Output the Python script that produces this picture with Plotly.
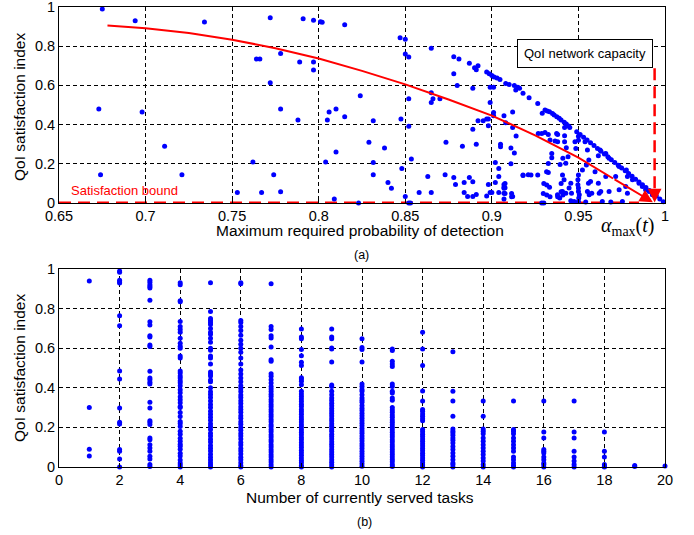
import plotly.graph_objects as go

# ---------------- (a) data: max required probability of detection vs QoI index
pts_sparse = [
    (0.675, 0.99), (0.694, 0.93), (0.734, 0.923), (0.772, 0.945), (0.791, 0.94),
    (0.797, 0.932), (0.801, 0.925), (0.802, 0.922), (0.815, 0.91),
    (0.673, 0.48), (0.698, 0.464), (0.711, 0.29), (0.674, 0.144), (0.721, 0.144),
    (0.764, 0.735), (0.766, 0.735), (0.778, 0.763), (0.772, 0.614), (0.778, 0.48),
    (0.789, 0.719), (0.797, 0.719), (0.797, 0.679), (0.788, 0.423), (0.762, 0.209),
    (0.774, 0.144), (0.753, 0.053), (0.767, 0.053), (0.778, 0.057),
    (0.806, 0.464), (0.805, 0.423), (0.810, 0.48), (0.815, 0.44), (0.804, 0.209),
    (0.810, 0.26), (0.809, 0.02), (0.824, 0.547), (0.829, 0.31), (0.8315, 0.42),
    (0.8315, 0.207), (0.8315, 0.144), (0.823, 0.0), (0.838, 0.28),
]
pts_mid = [
    (0.847, 0.843), (0.850, 0.835), (0.850, 0.76), (0.852, 0.745), (0.865, 0.79),
    (0.878, 0.66), (0.880, 0.599), (0.889, 0.586), (0.899, 0.59), (0.901, 0.59),
    (0.852, 0.532), (0.865, 0.562), (0.866, 0.532), (0.865, 0.513), (0.870, 0.532),
    (0.899, 0.513), (0.901, 0.462), (0.901, 0.445), (0.907, 0.445), (0.912, 0.464),
    (0.8475, 0.428), (0.852, 0.392), (0.892, 0.42), (0.895, 0.42), (0.897, 0.428),
    (0.898, 0.428), (0.898, 0.394), (0.889, 0.376), (0.908, 0.41), (0.912, 0.385),
    (0.914, 0.342), (0.8735, 0.31), (0.883, 0.29), (0.891, 0.30), (0.905, 0.30),
    (0.905, 0.287), (0.911, 0.28), (0.913, 0.255), (0.8535, 0.224), (0.848, 0.176),
    (0.840, 0.104), (0.842, 0.075), (0.863, 0.135), (0.873, 0.144), (0.878, 0.13),
    (0.879, 0.094), (0.887, 0.13), (0.884, 0.104), (0.889, 0.108), (0.902, 0.207),
    (0.904, 0.176), (0.904, 0.135), (0.902, 0.104), (0.907, 0.094), (0.907, 0.082),
    (0.907, 0.075), (0.911, 0.2), (0.918, 0.14), (0.921, 0.144), (0.898, 0.094),
    (0.858, 0.053), (0.865, 0.053), (0.884, 0.053), (0.886, 0.033), (0.889, 0.033),
    (0.891, 0.043), (0.897, 0.036), (0.899, 0.053), (0.900, 0.053), (0.904, 0.053),
    (0.907, 0.05), (0.907, 0.02), (0.912, 0.033), (0.85, 0.033), (0.852, 0.0),
    (0.853, 0.0),
]
pts_edge1 = [
    (0.878, 0.746), (0.881, 0.735), (0.887, 0.713), (0.890, 0.69), (0.891, 0.68),
    (0.892, 0.70), (0.897, 0.668), (0.8985, 0.66), (0.900, 0.65), (0.9013, 0.643),
    (0.903, 0.638), (0.9047, 0.63), (0.908, 0.61), (0.910, 0.604), (0.913, 0.60),
    (0.915, 0.59), (0.916, 0.585), (0.9138, 0.577), (0.918, 0.56), (0.9215, 0.537),
    (0.9265, 0.508),
]
pts_edge2 = [
    (0.9291, 0.458), (0.9307, 0.474), (0.932, 0.47), (0.9333, 0.466), (0.935, 0.457),
    (0.936, 0.449), (0.9375, 0.44), (0.9389, 0.432), (0.940, 0.424), (0.9418, 0.412),
    (0.943, 0.403), (0.9443, 0.393),
]
pts_edge3 = [
    (0.949, 0.364), (0.951, 0.35), (0.953, 0.336), (0.955, 0.321), (0.957, 0.307),
    (0.959, 0.293), (0.961, 0.278), (0.963, 0.264), (0.965, 0.25), (0.967, 0.236),
    (0.969, 0.221), (0.971, 0.207), (0.973, 0.193), (0.975, 0.178), (0.977, 0.164),
    (0.979, 0.15), (0.981, 0.136), (0.983, 0.121), (0.985, 0.107), (0.987, 0.093),
    (0.989, 0.079), (0.991, 0.064), (0.993, 0.05), (0.995, 0.036), (0.997, 0.021),
    (0.999, 0.007),
]
pts_dense = [
    (0.9268, 0.355), (0.9288, 0.355), (0.9307, 0.36), (0.9326, 0.35), (0.9374, 0.355),
    (0.9336, 0.321), (0.9365, 0.316), (0.9346, 0.253), (0.9346, 0.231), (0.9394, 0.197),
    (0.9326, 0.202), (0.918, 0.143), (0.9226, 0.143), (0.9265, 0.143), (0.9326, 0.156),
    (0.94, 0.10), (0.9076, 0.10), (0.9076, 0.078), (0.9076, 0.049), (0.9114, 0.049),
    (0.9114, 0.032), (0.9297, 0.049), (0.9317, 0.041), (0.9336, 0.032), (0.94, 0.058),
    (0.941, 0.041), (0.938, 0.032), (0.93, 0.0), (0.9288, 0.0), (0.930, 0.10),
    (0.9317, 0.0915), (0.9333, 0.08), (0.9316, 0.16),
    (0.942, 0.385), (0.945, 0.385), (0.938, 0.35), (0.942, 0.343), (0.938, 0.312),
    (0.942, 0.312), (0.948, 0.312), (0.943, 0.282), (0.9485, 0.278), (0.944, 0.236),
    (0.941, 0.228), (0.9427, 0.203), (0.9408, 0.143), (0.9417, 0.118), (0.9456, 0.101),
    (0.9446, 0.076), (0.9408, 0.059), (0.9427, 0.05), (0.946, 0.05), (0.9379, 0.042),
    (0.9392, 0.025), (0.9456, 0.012), (0.9475, 0.008),
    (0.95, 0.34), (0.95, 0.32), (0.95, 0.143), (0.9497, 0.118), (0.9497, 0.093),
    (0.95, 0.076), (0.95, 0.059), (0.9505, 0.042), (0.9502, 0.025), (0.95, 0.008),
    (0.9538, 0.312), (0.9552, 0.27), (0.9615, 0.241), (0.9625, 0.27), (0.9658, 0.253),
    (0.9677, 0.228), (0.956, 0.219), (0.9596, 0.160), (0.9546, 0.194), (0.9523, 0.169),
    (0.9735, 0.186), (0.9777, 0.169), (0.9715, 0.135), (0.9658, 0.135), (0.9615, 0.101),
    (0.957, 0.11), (0.9558, 0.101), (0.9552, 0.059), (0.9577, 0.05), (0.9562, 0.042),
    (0.9629, 0.059), (0.962, 0.05), (0.9677, 0.059), (0.9735, 0.068), (0.9773, 0.084),
    (0.9783, 0.05), (0.9812, 0.118), (0.9869, 0.084), (0.9888, 0.068), (0.9908, 0.059),
    (0.9927, 0.042), (0.985, 0.101), (0.9783, 0.135), (0.9638, 0.008), (0.9687, 0.005),
    (0.9754, 0.008), (0.9542, 0.005),
]

# red trend curve (a)
trend_pd = [0.678, 0.70, 0.725, 0.75, 0.775, 0.80, 0.825, 0.85, 0.875, 0.90,
            0.925, 0.95, 0.97]
trend_qsi = [0.905, 0.892, 0.867, 0.833, 0.790, 0.737, 0.674, 0.605, 0.528, 0.446,
             0.345, 0.232, 0.125]
trend_tip = (0.993, 0.004)
alpha_max = 0.994
capacity_top = 0.687

# ---------------- (b) data: number of served tasks vs QoI index
q_tasks01 = [0.94, 0.30, 0.09, 0.055]
q_tasks02 = [0.99, 0.983, 0.943, 0.934, 0.929, 0.764, 0.714, 0.485, 0.444, 0.298,
             0.226, 0.217, 0.088, 0.079, 0.04, 0.0]
q_tasks03 = [0.943, 0.933, 0.921, 0.912, 0.904, 0.842, 0.734, 0.717, 0.663, 0.657,
             0.616, 0.609, 0.483, 0.45, 0.441, 0.428, 0.419, 0.327, 0.298, 0.234,
             0.226, 0.215, 0.146, 0.138, 0.113, 0.096, 0.079, 0.054, 0.04, 0.012, 0.003]
q_tasks04 = [0.93, 0.92, 0.84, 0.835, 0.735, 0.71, 0.695, 0.68, 0.65, 0.625, 0.61,
             0.60, 0.56, 0.55, 0.485, 0.475, 0.46, 0.45, 0.435, 0.425, 0.41, 0.39,
             0.375, 0.355, 0.34, 0.325, 0.305, 0.30, 0.275, 0.255, 0.23, 0.22, 0.205,
             0.18, 0.165, 0.145, 0.13, 0.115, 0.105, 0.09, 0.07, 0.055, 0.035, 0.02,
             0.01, 0.0]
q_tasks05 = [0.93, 0.785, 0.75, 0.74, 0.73, 0.72, 0.70, 0.68, 0.67, 0.65, 0.63, 0.60,
             0.59, 0.56, 0.55, 0.52, 0.48, 0.47, 0.46, 0.44, 0.43, 0.40, 0.38, 0.366,
             0.351, 0.333, 0.316, 0.30, 0.282, 0.266, 0.251, 0.236, 0.219, 0.205, 0.19,
             0.171, 0.156, 0.14, 0.126, 0.109, 0.095, 0.081, 0.064, 0.049, 0.035, 0.021,
             0.01, 0.0]
q_tasks06 = [0.93, 0.925, 0.74, 0.73, 0.71, 0.69, 0.665, 0.64, 0.62, 0.60, 0.58, 0.55,
             0.52, 0.49, 0.47, 0.45, 0.43, 0.41, 0.396, 0.381, 0.364, 0.351, 0.334,
             0.321, 0.304, 0.291, 0.276, 0.259, 0.246, 0.229, 0.216, 0.199, 0.186, 0.169,
             0.156, 0.141, 0.124, 0.111, 0.094, 0.081, 0.066, 0.049, 0.036, 0.021, 0.008,
             0.0]
q_tasks07 = [0.925, 0.71, 0.694, 0.663, 0.652, 0.606, 0.542, 0.534, 0.471, 0.458, 0.441,
             0.424, 0.407, 0.394, 0.381, 0.367, 0.356, 0.341, 0.33, 0.316, 0.304, 0.291,
             0.279, 0.265, 0.254, 0.24, 0.229, 0.214, 0.203, 0.189, 0.178, 0.163, 0.152,
             0.138, 0.127, 0.113, 0.101, 0.087, 0.076, 0.062, 0.05, 0.036, 0.025, 0.011,
             0.0]
q_tasks08 = [0.697, 0.657, 0.648, 0.593, 0.562, 0.529, 0.512, 0.451, 0.444, 0.433,
             0.416, 0.382, 0.369, 0.356, 0.343, 0.331, 0.317, 0.305, 0.291, 0.279,
             0.266, 0.253, 0.24, 0.227, 0.214, 0.202, 0.188, 0.176, 0.163, 0.149, 0.137,
             0.124, 0.111, 0.098, 0.085, 0.072, 0.059, 0.046, 0.033, 0.021, 0.008, 0.0]
q_tasks09 = [0.697, 0.657, 0.648, 0.601, 0.596, 0.53, 0.414, 0.407, 0.382, 0.365,
             0.348, 0.336, 0.322, 0.309, 0.296, 0.283, 0.27, 0.258, 0.244, 0.232, 0.218,
             0.206, 0.192, 0.18, 0.166, 0.154, 0.141, 0.128, 0.115, 0.102, 0.089, 0.076,
             0.063, 0.05, 0.037, 0.024, 0.011, 0.0]
q_tasks10 = [0.648, 0.604, 0.593, 0.53, 0.419, 0.407, 0.391, 0.382, 0.365, 0.348,
             0.337, 0.327, 0.31, 0.297, 0.285, 0.272, 0.259, 0.246, 0.233, 0.221, 0.208,
             0.195, 0.182, 0.17, 0.157, 0.144, 0.131, 0.118, 0.106, 0.093, 0.08, 0.067,
             0.054, 0.042, 0.029, 0.016, 0.004]
q_tasks11 = [0.596, 0.588, 0.534, 0.52, 0.508, 0.419, 0.407, 0.382, 0.374, 0.348,
             0.337, 0.30, 0.288, 0.276, 0.263, 0.251, 0.238, 0.226, 0.213, 0.201, 0.188,
             0.176, 0.163, 0.151, 0.138, 0.126, 0.113, 0.101, 0.088, 0.076, 0.063, 0.051,
             0.038, 0.026, 0.013, 0.002]
q_tasks12 = [0.68, 0.596, 0.512, 0.384, 0.333, 0.29, 0.281, 0.268, 0.256, 0.244, 0.234,
             0.19, 0.178, 0.166, 0.154, 0.142, 0.13, 0.118, 0.106, 0.094, 0.082, 0.07,
             0.058, 0.046, 0.034, 0.022, 0.01, 0.0]
q_tasks13 = [0.582, 0.382, 0.333, 0.256, 0.192, 0.18, 0.172, 0.16, 0.146, 0.135, 0.121,
             0.104, 0.088, 0.071, 0.054, 0.037, 0.02, 0.012, 0.0]
q_tasks14 = [0.333, 0.256, 0.192, 0.18, 0.168, 0.146, 0.13, 0.113, 0.096, 0.08, 0.063,
             0.046, 0.03, 0.012, 0.0]
q_tasks15 = [0.333, 0.189, 0.18, 0.168, 0.146, 0.13, 0.113, 0.096, 0.08, 0.05, 0.037,
             0.02, 0.008, 0.0]
q_tasks16 = [0.333, 0.177, 0.146, 0.088, 0.079, 0.071, 0.05, 0.037, 0.02, 0.012, 0.0]
q_tasks17 = [0.333, 0.177, 0.146, 0.079, 0.05, 0.03, 0.012, 0.0]
q_tasks18 = [0.177, 0.079, 0.05, 0.012, 0.003, 0.0]
q_tasks19 = [0.007, 0.003]
q_tasks20 = [0.005]

# ---------------- build
BLUE = "#0000ff"
RED = "#ff0000"
FONT = "Liberation Sans, Arial, sans-serif"

top_pts = pts_sparse + pts_mid + pts_edge1 + pts_edge2 + pts_edge3 + pts_dense
top_x = [p[0] for p in top_pts]
top_y = [p[1] for p in top_pts]

columns = [q_tasks01, q_tasks02, q_tasks03, q_tasks04, q_tasks05, q_tasks06, q_tasks07,
           q_tasks08, q_tasks09, q_tasks10, q_tasks11, q_tasks12, q_tasks13, q_tasks14,
           q_tasks15, q_tasks16, q_tasks17, q_tasks18, q_tasks19, q_tasks20]
bot_x, bot_y = [], []
for n, col in enumerate(columns, start=1):
    bot_x += [n] * len(col)
    bot_y += col

fig = go.Figure()

# satisfaction bound (red dashed along y=0)
fig.add_trace(go.Scatter(x=[0.65, 0.985], y=[0, 0], mode="lines",
                         line=dict(color=RED, width=3, dash="12px,7px"),
                         xaxis="x", yaxis="y", hoverinfo="skip"))
# capacity vertical dashed
fig.add_trace(go.Scatter(x=[alpha_max, alpha_max], y=[capacity_top, 0.03], mode="lines",
                         line=dict(color=RED, width=2.5, dash="12px,6px"),
                         xaxis="x", yaxis="y", hoverinfo="skip"))
fig.add_trace(go.Scatter(x=top_x, y=top_y, mode="markers",
                         marker=dict(color=BLUE, size=5), xaxis="x", yaxis="y",
                         cliponaxis=False))
fig.add_trace(go.Scatter(x=trend_pd, y=trend_qsi, mode="lines",
                         line=dict(color=RED, width=2),
                         xaxis="x", yaxis="y"))
fig.add_trace(go.Scatter(x=bot_x, y=bot_y, mode="markers",
                         marker=dict(color=BLUE, size=5), xaxis="x2", yaxis="y2",
                         cliponaxis=False))

axis_common = dict(showline=True, linecolor="black", linewidth=1, mirror=True,
                   showgrid=True, gridcolor="black", gridwidth=0.8, griddash="4px,3px",
                   zeroline=False, ticks="inside", ticklen=4, tickcolor="black",
                   automargin=False, ticklabeloverflow="allow",
                   tickfont=dict(family=FONT, size=14.5, color="black"))

H_TOP = 196 / 460
fig.update_layout(
    width=694, height=535,
    margin=dict(l=59, r=29, t=7, b=68, autoexpand=False),
    paper_bgcolor="white", plot_bgcolor="white",
    showlegend=False,
    xaxis=dict(domain=[0, 1], range=[0.65, 1], tickvals=[0.65, 0.7, 0.75, 0.8, 0.85, 0.9, 0.95, 1],
               ticktext=["0.65", "0.7", "0.75", "0.8", "0.85", "0.9", "0.95", "1"],
               anchor="y", **axis_common),
    yaxis=dict(domain=[1 - H_TOP, 1], range=[0, 1], tickvals=[0, 0.2, 0.4, 0.6, 0.8, 1],
               ticktext=["0", "0.2", "0.4", "0.6", "0.8", "1"], anchor="x", **axis_common),
    xaxis2=dict(domain=[0, 1], range=[0, 20], tickvals=list(range(0, 21, 2)),
                anchor="y2", **axis_common),
    yaxis2=dict(domain=[0, 198 / 460], range=[0, 1], tickvals=[0, 0.2, 0.4, 0.6, 0.8, 1],
                ticktext=["0", "0.2", "0.4", "0.6", "0.8", "1"], anchor="x2", **axis_common),
)

def px2paper(px, py):
    return (px - 59) / 606, (467 - py) / 460

ann = []
def text_ann(px, py, text, size=15.5, angle=0, color="black", family=FONT):
    x, y = px2paper(px, py)
    ann.append(dict(x=x, y=y, xref="paper", yref="paper", text=text, showarrow=False,
                    textangle=angle, xanchor="center", yanchor="middle",
                    font=dict(family=family, size=size, color=color)))

text_ann(360, 231, "Maximum required probability of detection")
text_ann(360, 497, "Number of currently served tasks")
text_ann(20, 107, "QoI satisfaction index", angle=-90)
text_ann(19, 368, "QoI satisfaction index", angle=-90)
text_ann(361, 255, "(a)", size=12.5)
text_ann(364, 522, "(b)", size=12.5)
text_ann(628, 226, "<i>α</i><sub>max</sub>(<i>t</i>)", size=20,
         family="Liberation Serif, Times New Roman, serif")

# Satisfaction bound label
ann.append(dict(x=0.688, y=0.063, xref="x", yref="y", text="Satisfaction bound",
                showarrow=False, xanchor="center", yanchor="middle",
                font=dict(family=FONT, size=13, color=RED)))
# QoI network capacity box
ann.append(dict(x=0.954, y=0.763, xref="x", yref="y", text="QoI network capacity",
                showarrow=False, xanchor="center", yanchor="middle",
                bgcolor="white", bordercolor="black", borderwidth=1, borderpad=6,
                font=dict(family=FONT, size=13, color="black")))
# arrow heads
ann.append(dict(x=trend_tip[0], y=trend_tip[1], xref="x", yref="y",
                ax=trend_pd[-1], ay=trend_qsi[-1], axref="x", ayref="y",
                showarrow=True, arrowhead=2, arrowsize=1.3, arrowwidth=2,
                arrowcolor=RED, text=""))
ann.append(dict(x=alpha_max, y=0.002, xref="x", yref="y",
                ax=alpha_max, ay=0.05, axref="x", ayref="y",
                showarrow=True, arrowhead=2, arrowsize=1.1, arrowwidth=2.5,
                arrowcolor=RED, text=""))
fig.update_layout(annotations=ann)

fig.write_html("out.html", config={"displayModeBar": False},
               post_script="document.body.style.margin='0';document.body.style.padding='0';")
